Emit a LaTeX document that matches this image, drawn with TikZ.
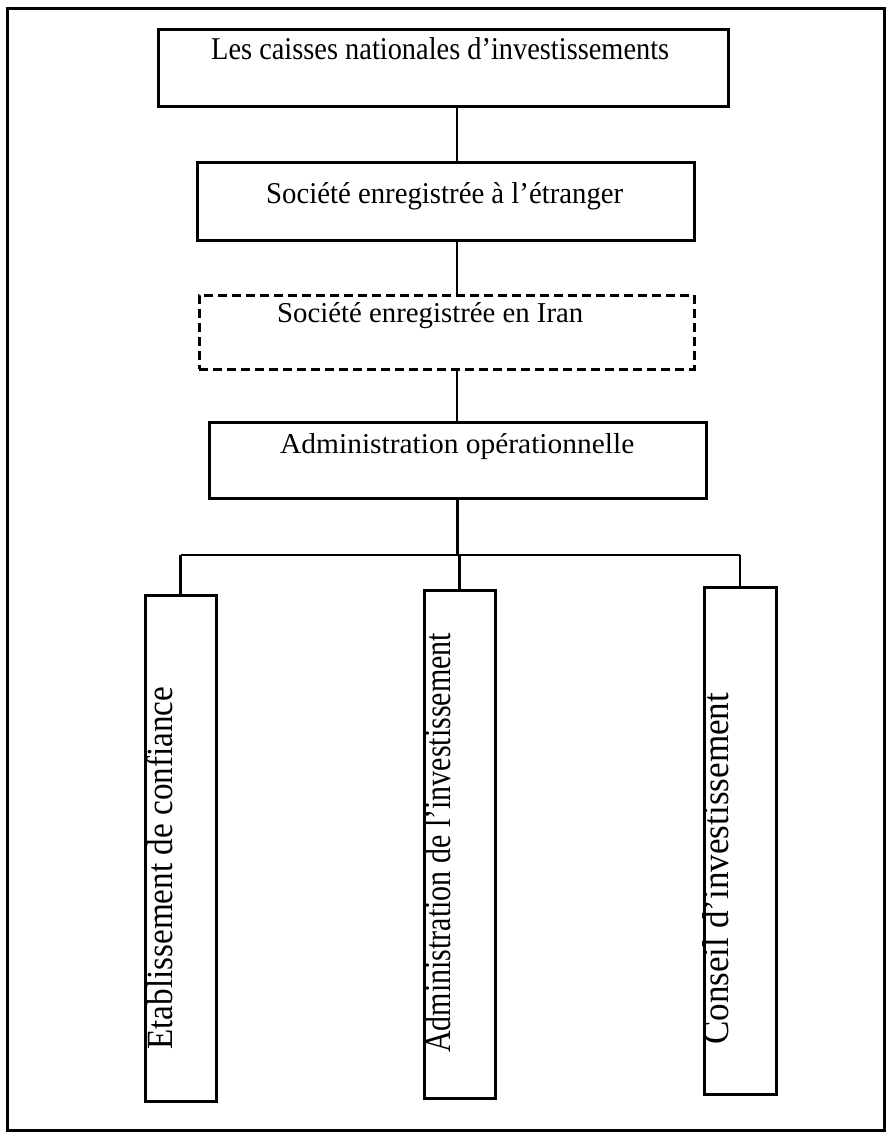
\documentclass[tikz,border=0pt]{standalone}
\usepackage{fontspec}
\setmainfont{Liberation Serif}
\usepackage{graphicx}
\newcommand\fitbox[3]{\resizebox{#1}{#2}{#3}}
\tikzset{
  frameline/.style={draw, line width=3pt},
  orgbox/.style={draw, line width=3pt, inner sep=0pt, fill=white},
  dashbox/.style={orgbox, dash pattern=on 9pt off 5pt},
  link/.style={draw, line width=2.6pt},
  htext/.style={inner sep=0pt, anchor=base west},
  vtext/.style={inner sep=0pt, rotate=90, anchor=base west},
}
\begin{document}
\begin{tikzpicture}[x=1pt, y=-1pt]
\useasboundingbox (0,0) rectangle (895,1134);
\draw[frameline] (7,9) rectangle (884,1130);

% boxes
\node[orgbox, minimum width=570pt, minimum height=77pt] (b1) at (443,68.5) {};
\node[orgbox, minimum width=497pt, minimum height=77pt] (b2) at (445.5,201.5) {};
\node[dashbox, minimum width=495pt, minimum height=74pt] (b3) at (446.5,332) {};
\node[orgbox, minimum width=497pt, minimum height=76pt] (b4) at (457.5,460) {};
\node[orgbox, minimum width=71pt, minimum height=506pt] (b5) at (180.5,848) {};
\node[orgbox, minimum width=71pt, minimum height=508pt] (b6) at (459.5,844) {};
\node[orgbox, minimum width=72pt, minimum height=507pt] (b7) at (740,840.5) {};

% texts
\node[htext] (t1) at (211,60) {\fitbox{458pt}{22pt}{Les caisses nationales d’investissements}};
\node[htext] (t2) at (266,203) {\fitbox{357pt}{21pt}{Société enregistrée à l’étranger}};
\node[htext] (t3) at (277,322) {\fitbox{306pt}{20pt}{Société enregistrée en Iran}};
\node[htext] (t4) at (280,453) {\fitbox{354pt}{20pt}{Administration opérationnelle}};
\node[vtext] (t5) at (172,1050) {\fitbox{363pt}{26pt}{Etablissement de confiance}};
\node[vtext] (t6) at (450,1053) {\fitbox{420pt}{26pt}{Administration de l’investissement}};
\node[vtext] (t7) at (728,1045) {\fitbox{352pt}{26pt}{Conseil d’investissement}};

% connectors
\coordinate (spine) at (457,0);
\coordinate (bus) at (0,555);
\draw[link] (b1.south -| spine) -- (b2.north -| spine);
\draw[link] (b2.south -| spine) -- (b3.north -| spine);
\draw[link] (b3.south -| spine) -- (b4.north -| spine);
\draw[link] (b4.south) -- (b4.south |- bus);
\draw[link] (b5.north |- bus) -- (b7.north |- bus);
\draw[link] (b5.north |- bus) -- (b5.north);
\draw[link] (b6.north |- bus) -- (b6.north);
\draw[link] (b7.north |- bus) -- (b7.north);
\end{tikzpicture}
\end{document}
